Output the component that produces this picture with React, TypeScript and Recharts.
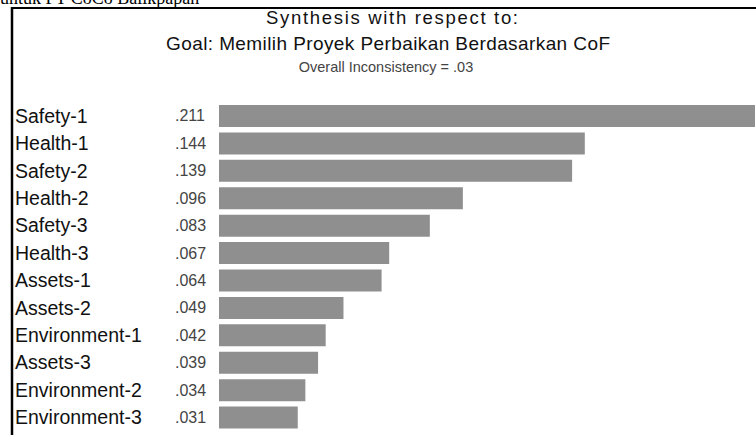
import React from "react";
import { BarChart, Bar, XAxis, YAxis } from "recharts";

// criteria and their synthesized priorities
const categories = [
  "Safety-1",
  "Health-1",
  "Safety-2",
  "Health-2",
  "Safety-3",
  "Health-3",
  "Assets-1",
  "Assets-2",
  "Environment-1",
  "Assets-3",
  "Environment-2",
  "Environment-3",
];
const priorities = [0.211, 0.144, 0.139, 0.096, 0.083, 0.067, 0.064, 0.049, 0.042, 0.039, 0.034, 0.031];
const valueLabels = [".211", ".144", ".139", ".096", ".083", ".067", ".064", ".049", ".042", ".039", ".034", ".031"];

const data = categories.map((name, i) => ({ name, value: priorities[i], label: valueLabels[i] }));

const W = 756;
const H = 435;
const FONT = "'Liberation Sans', Arial, sans-serif";

const RowTick = (props: any) => {
  const { y, payload } = props;
  const i = payload.index;
  return (
    <g>
      <text x={15} y={y} dy="0.36em" fontSize={19.5} fill="#111" fontFamily={FONT}>
        {payload.value}
      </text>
      <text x={175} y={y} dy="0.36em" fontSize={16} fill="#444" fontFamily={FONT}>
        {valueLabels[i]}
      </text>
    </g>
  );
};

export default function App() {
  return (
    <div style={{ position: "absolute", left: 0, top: 0, width: W, height: H, background: "#fff", overflow: "hidden" }}>
      <svg width={W} height={H} style={{ position: "absolute", left: 0, top: 0 }}>
        <text x={0} y={4} fontSize={18} fontFamily="'Liberation Serif', serif" fill="#000">
          untuk PT CoCo Balikpapan
        </text>
        <line x1={11} y1={8} x2={W} y2={8} stroke="#000" strokeWidth={2} />
        <line x1={12} y1={7} x2={12} y2={H} stroke="#000" strokeWidth={2.5} />
        <text x={392} y={24} textAnchor="middle" fontSize={18.5} fontFamily={FONT} fill="#111" textLength={252} lengthAdjust="spacing">
          Synthesis with respect to:
        </text>
        <text x={388} y={50} textAnchor="middle" fontSize={19} fontFamily={FONT} fill="#111" textLength={444} lengthAdjust="spacing">
          Goal: Memilih Proyek Perbaikan Berdasarkan CoF
        </text>
        <text x={386} y={72} textAnchor="middle" fontSize={14.5} fontFamily={FONT} fill="#444">
          Overall Inconsistency = .03
        </text>
      </svg>
      <div style={{ position: "absolute", left: 0, top: 0 }}>
        <BarChart
          width={W}
          height={H}
          data={data}
          layout="vertical"
          margin={{ top: 102, right: 1, bottom: 4, left: 10 }}
        >
          <XAxis type="number" hide domain={[0, 0.211]} />
          <YAxis
            type="category"
            dataKey="name"
            width={209}
            axisLine={false}
            tickLine={false}
            tick={<RowTick />}
            interval={0}
          />
          <Bar dataKey="value" fill="#8f8f8f" barSize={22} isAnimationActive={false} />
        </BarChart>
      </div>
    </div>
  );
}
